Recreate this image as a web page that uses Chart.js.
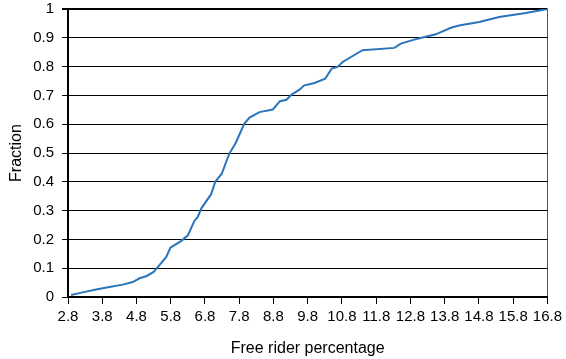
<!DOCTYPE html>
<html>
<head>
<meta charset="utf-8">
<script src="https://cdn.jsdelivr.net/npm/chart.js@4"></script>
<style>
html,body{margin:0;padding:0;background:#fff;}
#wrap{width:566px;height:359px;position:relative;}
</style>
</head>
<body>
<div id="wrap"><canvas id="c" width="566" height="359"></canvas></div>
<script>
const freeRiderPct = [2.89, 3.23, 3.62, 4.01, 4.40, 4.69, 4.89, 5.10, 5.30, 5.42, 5.67, 5.79, 5.91, 6.10, 6.30, 6.49, 6.59, 6.69, 6.98, 7.10, 7.29, 7.51, 7.69, 7.95, 8.10, 8.39, 8.78, 8.99, 9.18, 9.33, 9.56, 9.70, 9.85, 10.0, 10.31, 10.50, 10.67, 10.82, 11.40, 12.33, 12.52, 13.01, 13.54, 13.98, 14.22, 14.81, 15.39, 16.17, 16.8];
const fraction = [0.007, 0.016, 0.026, 0.035, 0.043, 0.052, 0.065, 0.073, 0.087, 0.104, 0.139, 0.171, 0.180, 0.194, 0.214, 0.264, 0.278, 0.307, 0.357, 0.400, 0.428, 0.498, 0.533, 0.602, 0.623, 0.642, 0.651, 0.680, 0.685, 0.703, 0.720, 0.735, 0.739, 0.743, 0.758, 0.793, 0.799, 0.816, 0.857, 0.865, 0.880, 0.897, 0.912, 0.935, 0.943, 0.955, 0.972, 0.986, 1.0];
const xTickValues = [2.8, 3.8, 4.8, 5.8, 6.8, 7.8, 8.8, 9.8, 10.8, 11.8, 12.8, 13.8, 14.8, 15.8, 16.8];
const yTickValues = [0, 0.1, 0.2, 0.3, 0.4, 0.5, 0.6, 0.7, 0.8, 0.9, 1];

const FONT = '"Liberation Sans", Arial, Helvetica, sans-serif';
const points = freeRiderPct.map((x, i) => ({x: x, y: fraction[i]}));

new Chart(document.getElementById('c'), {
  type: 'line',
  data: {
    datasets: [{
      data: points,
      borderColor: '#2a75bb',
      borderWidth: 2,
      pointRadius: 0,
      tension: 0,
      fill: false
    }]
  },
  options: {
    responsive: false,
    animation: false,
    devicePixelRatio: 1,
    layout: {padding: {left: 0, right: 17.5, top: 9, bottom: 0}},
    plugins: {legend: {display: false}, tooltip: {enabled: false}},
    scales: {
      x: {
        type: 'linear',
        min: 2.8,
        max: 16.8,
        afterBuildTicks: s => { s.ticks = xTickValues.map(v => ({value: v})); },
        afterFit: s => { s.height = 62; },
        border: {display: true, color: '#000', width: 2},
        grid: {
          drawOnChartArea: true,
          color: c => (c.tick && c.tick.value === 16.8) ? '#555' : 'rgba(0,0,0,0)',
          tickColor: '#000',
          tickLength: 7,
          lineWidth: 1
        },
        ticks: {
          autoSkip: false,
          maxRotation: 0,
          minRotation: 0,
          color: '#000',
          padding: 4,
          font: {family: FONT, size: 15},
          callback: v => Number(v).toFixed(1)
        },
        title: {
          display: true,
          text: 'Free rider percentage',
          color: '#000',
          font: {family: FONT, size: 16},
          padding: {top: 2, bottom: 0.5}
        }
      },
      y: {
        type: 'linear',
        min: 0,
        max: 1,
        afterBuildTicks: s => { s.ticks = yTickValues.map(v => ({value: v})); },
        afterFit: s => { s.width = 68; s.paddingTop = 0; s.paddingBottom = 0; },
        border: {display: true, color: '#000', width: 2},
        grid: {
          color: '#000',
          tickColor: '#000',
          tickLength: 6,
          lineWidth: c => (c.tick && c.tick.value === 1) ? 2 : 1
        },
        ticks: {
          color: '#000',
          padding: 8,
          font: {family: FONT, size: 15},
          callback: v => String(Math.round(v * 10) / 10)
        },
        title: {
          display: true,
          text: 'Fraction',
          color: '#000',
          font: {family: FONT, size: 16},
          padding: {top: 7, bottom: 0}
        }
      }
    }
  }
});
</script>
</body>
</html>
